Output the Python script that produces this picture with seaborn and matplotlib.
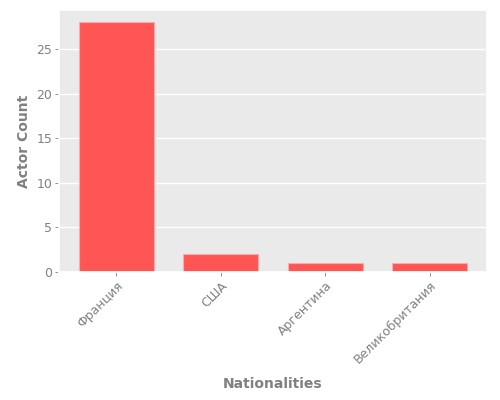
import matplotlib
matplotlib.use("Agg")
import matplotlib.pyplot as plt
import seaborn as sns
import pandas as pd

# Data
nationalities = ["Франция", "США", "Аргентина", "Великобритания"]
actor_counts = [28, 2, 1, 1]

df = pd.DataFrame({"Nationalities": nationalities, "Actor Count": actor_counts})

sns.set_theme(style="darkgrid", rc={
    "axes.facecolor": "#eaeaea",
    "grid.color": "white",
    "text.color": "#808080",
    "axes.labelcolor": "#808080",
    "xtick.color": "#808080",
    "ytick.color": "#808080",
    "xtick.bottom": True,
    "ytick.left": True,
    "xtick.major.size": 3,
    "ytick.major.size": 3,
    "xtick.major.width": 0.6,
    "ytick.major.width": 0.6,
})
plt.rcParams["font.family"] = ["DejaVu Sans"]

fig, ax = plt.subplots(figsize=(5, 4), dpi=100)
sns.barplot(data=df, x="Nationalities", y="Actor Count", color="#ff5555",
            saturation=1, width=0.72, edgecolor="#ffaaaa", linewidth=0.8, ax=ax)
ax.set_xlim(-0.55, 3.55)
ax.set_ylim(0, 29.4)
ax.tick_params(axis="x", labelrotation=45, labelsize=9, pad=2)
ax.tick_params(axis="y", labelsize=9, pad=2)
for lbl in ax.get_xticklabels():
    lbl.set_ha("right")
    lbl.set_rotation_mode("anchor")
ax.grid(axis="x", visible=False)
ax.set_xlabel("Nationalities", fontsize=10, fontweight="bold", labelpad=8)
ax.set_ylabel("Actor Count", fontsize=10, fontweight="bold")
fig.subplots_adjust(left=0.118, right=0.974, top=0.975, bottom=0.32)
fig.savefig("out.png", dpi=100)
